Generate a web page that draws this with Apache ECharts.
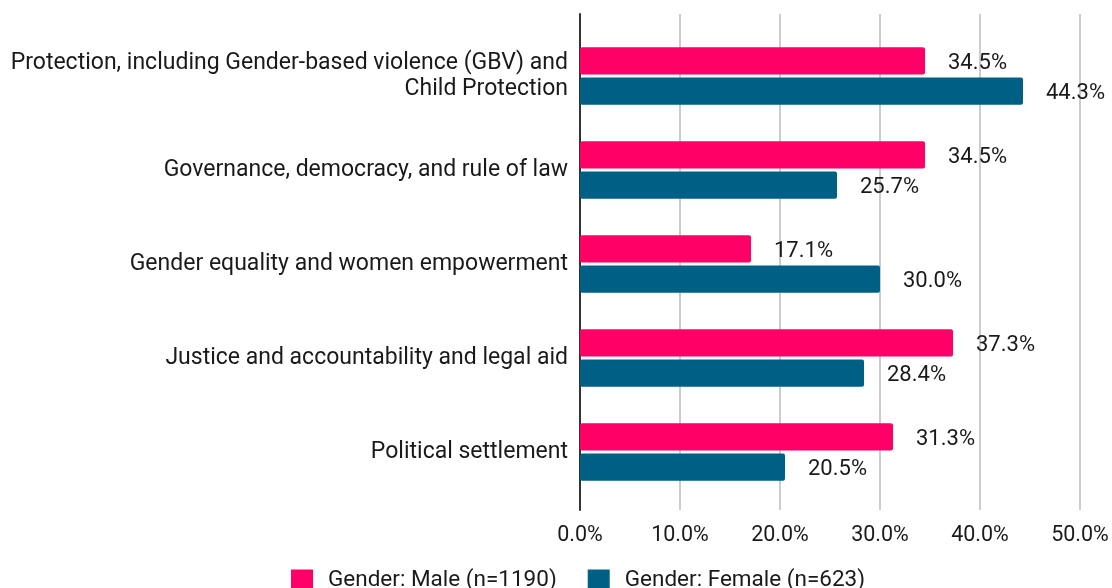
<!DOCTYPE html>
<html><head><meta charset="utf-8">
<script src="https://cdn.jsdelivr.net/npm/echarts@6/dist/echarts.min.js"></script>
<style>html,body{margin:0;padding:0;background:#fff}#c{width:1112px;height:588px}</style>
</head><body><div id="c"></div>
<script>
const categories = [
  "Protection, including Gender-based violence (GBV) and\nChild Protection",
  "Governance, democracy, and rule of law",
  "Gender equality and women empowerment",
  "Justice and accountability and legal aid",
  "Political settlement"
];
const maleValues = [34.5, 34.5, 17.1, 37.3, 31.3];
const femaleValues = [44.3, 25.7, 30.0, 28.4, 20.5];
const seriesNames = ["Gender: Male (n=1190)", "Gender: Female (n=623)"];

const chart = echarts.init(document.getElementById('c'), null, {renderer: 'canvas'});
const lbl = {show: true, position: 'right', distance: 23, offset: [0, 2.5], color: '#1a1a1a', fontSize: 22, fontFamily: 'Roboto', formatter: p => p.value.toFixed(1) + '%'};
chart.setOption({
  animation: false,
  textStyle: {fontFamily: 'Roboto'},
  grid: [
    {left: 580, right: 32, top: 29, bottom: 89},
    {left: 580, right: 32, top: 14, bottom: 78}
  ],
  legend: {
    top: 564, left: 286, itemWidth: 22, itemHeight: 22, itemGap: 31, icon: 'rect',
    textStyle: {fontSize: 22.5, color: '#1a1a1a', fontFamily: 'Roboto', padding: [0, 0, 0, 10]},
    data: seriesNames
  },
  xAxis: [
    {type: 'value', gridIndex: 0, min: 0, max: 50, interval: 10, show: false},
    {
      type: 'value', gridIndex: 1, min: 0, max: 50, interval: 10,
      axisLabel: {formatter: v => v.toFixed(1) + '%', fontSize: 21.5, color: '#1a1a1a', margin: 15},
      splitLine: {lineStyle: {color: '#cccccc', width: 2}},
      axisLine: {show: false}, axisTick: {show: false}
    }
  ],
  yAxis: [
    {
      type: 'category', gridIndex: 0, inverse: true, data: categories,
      axisLine: {show: false}, axisTick: {show: false},
      axisLabel: {fontSize: 23, color: '#1a1a1a', margin: 12, align: 'right', lineHeight: 26}
    },
    {
      type: 'value', gridIndex: 1, min: 0, max: 1,
      axisLine: {show: true, lineStyle: {color: '#333', width: 2}},
      axisTick: {show: false}, axisLabel: {show: false}, splitLine: {show: false}
    }
  ],
  series: [
    {name: seriesNames[0], type: 'bar', xAxisIndex: 0, yAxisIndex: 0, data: maleValues, itemStyle: {color: '#ff0066', borderRadius: 2}, barGap: '11%', barCategoryGap: '39%', label: lbl, z: 3},
    {name: seriesNames[1], type: 'bar', xAxisIndex: 0, yAxisIndex: 0, data: femaleValues, itemStyle: {color: '#005f85', borderRadius: 2}, label: lbl, z: 3}
  ]
});
</script></body></html>
